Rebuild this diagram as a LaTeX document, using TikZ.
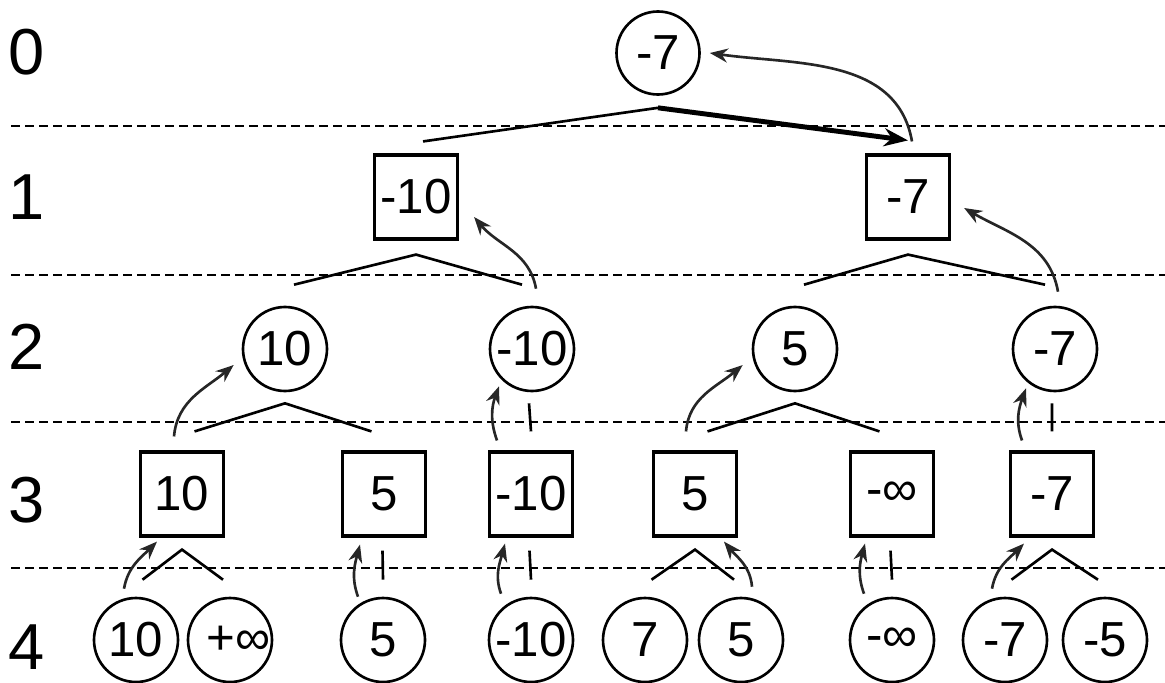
\documentclass[tikz,border=0pt]{standalone}
\usepackage{fontspec}
\setmainfont{Liberation Sans}
\usetikzlibrary{arrows.meta}

\tikzset{
  maxnode/.style={circle,draw,line width=1.5pt,minimum size=1.68cm,inner sep=0pt,
    font=\fontsize{28}{28}\selectfont},
  minnode/.style={rectangle,draw,line width=1.8pt,minimum width=1.66cm,minimum height=1.68cm,
    inner sep=0pt,font=\fontsize{28}{28}\selectfont},
  depth/.style={font=\fontsize{37}{37}\selectfont},
  ply/.style={line width=1.1pt,dash pattern=on 0.17cm off 0.11cm},
  fork/.style={line width=1.5pt},
  back/.style={line width=1.5pt,black!85,-{Stealth[length=0.36cm,width=0.28cm]}},
  best/.style={line width=2.8pt,-{Stealth[length=0.48cm,width=0.36cm]}}
}

\begin{document}
\begin{tikzpicture}
\useasboundingbox (0,0) rectangle (23.3,13.64);

% ply separators
\draw[ply] (0.22,11.12) -- (23.3,11.12);
\draw[ply] (0.22,8.14) -- (23.3,8.14);
\draw[ply] (0.22,5.2) -- (23.3,5.2);
\draw[ply,line width=1.6pt] (0.22,2.28) -- (23.3,2.28);

% depth numbers
\node[depth] (d0) at (0.54,12.6) {0};
\node[depth] (d1) at (0.54,9.7) {1};
\node[depth] (d2) at (0.54,6.7) {2};
\node[depth] (d3) at (0.54,3.64) {3};
\node[depth] (d4) at (0.54,0.7) {4};

% the tree
\node[maxnode,minimum size=1.66cm] (m0) at (13.16,12.58) {-7};

\node[minnode] (m1a) at (8.32,9.7) {-10};
\node[minnode] (m1b) at (18.16,9.7) {-7};

\node[maxnode] (m2a) at (5.7,6.66) {10};
\node[maxnode] (m2b) at (10.64,6.66) {-10};
\node[maxnode] (m2c) at (15.9,6.66) {5};
\node[maxnode] (m2d) at (21.1,6.66) {-7};

\node[minnode] (m3a) at (3.64,3.76) {10};
\node[minnode] (m3b) at (7.68,3.76) {5};
\node[minnode] (m3c) at (10.62,3.76) {-10};
\node[minnode] (m3d) at (13.9,3.76) {5};
\node[minnode] (m3e) at (17.84,3.76) {-∞};
\node[minnode] (m3f) at (21.04,3.76) {-7};

\node[maxnode] (m4a) at (2.72,0.84) {10};
\node[maxnode] (m4b) at (4.6,0.84) {\makebox[0pt]{\hspace{0.35cm}+∞}};
\node[maxnode] (m4c) at (7.66,0.84) {5};
\node[maxnode] (m4d) at (10.62,0.84) {-10};
\node[maxnode] (m4e) at (12.9,0.84) {7};
\node[maxnode] (m4f) at (14.82,0.84) {5};
\node[maxnode] (m4g) at (17.84,0.84) {-∞};
\node[maxnode] (m4h) at (20.1,0.84) {-7};
\node[maxnode] (m4i) at (22.1,0.84) {-5};

% branches
\draw[fork] ([xshift=0.14cm,yshift=0.24cm]m1a.north) -- ([yshift=-0.24cm]m0.south) coordinate (k0);
\draw[best] (k0) -- ([yshift=0.26cm]m1b.north);
\foreach \p/\l/\r in {m1a/m2a/m2b, m1b/m2c/m2d}
  \draw[fork] ([xshift=0.18cm,yshift=0.42cm]\l.north) -- ([yshift=-0.28cm]\p.south)
    -- ([xshift=-0.2cm,yshift=0.42cm]\r.north);
\foreach \p/\l/\r in {m2a/m3a/m3b, m2c/m3d/m3e}
  \draw[fork] ([xshift=0.25cm,yshift=0.38cm]\l.north) -- ([yshift=-0.22cm]\p.south)
    -- ([xshift=-0.25cm,yshift=0.38cm]\r.north);
\foreach \p/\l/\r in {m3a/m4a/m4b, m3d/m4e/m4f, m3f/m4h/m4i}
  \draw[fork] ([xshift=0.13cm,yshift=0.34cm]\l.north) -- ([yshift=-0.24cm]\p.south)
    -- ([xshift=-0.14cm,yshift=0.34cm]\r.north);
\foreach \p/\c in {m2b/m3c, m2d/m3f}
  \draw[fork] ([xshift=-0.06cm,yshift=-0.22cm]\p.south) -- ([yshift=0.38cm]\c.north);
\foreach \p/\c in {m3b/m4c, m3c/m4d, m3e/m4g}
  \draw[fork] ([xshift=-0.03cm,yshift=-0.26cm]\p.south) -- ([yshift=0.34cm]\c.north);

% values backed up
\draw[back] ([xshift=-0.24cm,yshift=0.16cm]m4a.north) to[out=80,in=-135] ([xshift=-0.5cm,yshift=-0.08cm]m3a.south);
\draw[back] ([xshift=-0.5cm]m4c.north) to[out=110,in=-105] ([xshift=-0.48cm,yshift=-0.14cm]m3b.south);
\draw[back] ([xshift=-0.6cm,yshift=0.06cm]m4d.north) to[out=110,in=-105] ([xshift=-0.52cm,yshift=-0.12cm]m3c.south);
\draw[back] ([xshift=0.22cm,yshift=0.2cm]m4f.north) to[out=95,in=-50] ([xshift=0.58cm,yshift=-0.08cm]m3d.south);
\draw[back] ([xshift=-0.56cm,yshift=0.06cm]m4g.north) to[out=110,in=-105] ([xshift=-0.54cm,yshift=-0.12cm]m3e.south);
\draw[back] ([xshift=-0.26cm,yshift=0.16cm]m4h.north) to[out=80,in=-135] ([xshift=-0.56cm,yshift=-0.12cm]m3f.south);

\draw[back] ([xshift=-0.16cm,yshift=0.28cm]m3a.north) to[out=85,in=-140] ([xshift=-0.16cm,yshift=-0.32cm]m2a.west);
\draw[back] ([xshift=-0.68cm,yshift=0.2cm]m3c.north) to[out=110,in=-110] ([xshift=-0.66cm,yshift=0.12cm]m2b.south);
\draw[back] ([xshift=-0.18cm,yshift=0.38cm]m3d.north) to[out=85,in=-140] ([xshift=-0.18cm,yshift=-0.32cm]m2c.west);
\draw[back] ([xshift=-0.6cm,yshift=0.2cm]m3f.north) to[out=110,in=-110] ([xshift=-0.58cm,yshift=0.08cm]m2d.south);

\draw[back] ([xshift=0.08cm,yshift=0.34cm]m2b.north) to[out=100,in=-50] ([xshift=0.3cm,yshift=-0.4cm]m1a.east);
\draw[back] ([xshift=0.06cm,yshift=0.28cm]m2d.north) to[out=100,in=-30] ([xshift=0.26cm,yshift=-0.22cm]m1b.east);

\draw[back] ([xshift=0.08cm,yshift=0.24cm]m1b.north) to[out=100,in=-8] ([xshift=0.18cm]m0.east);
\end{tikzpicture}
\end{document}
